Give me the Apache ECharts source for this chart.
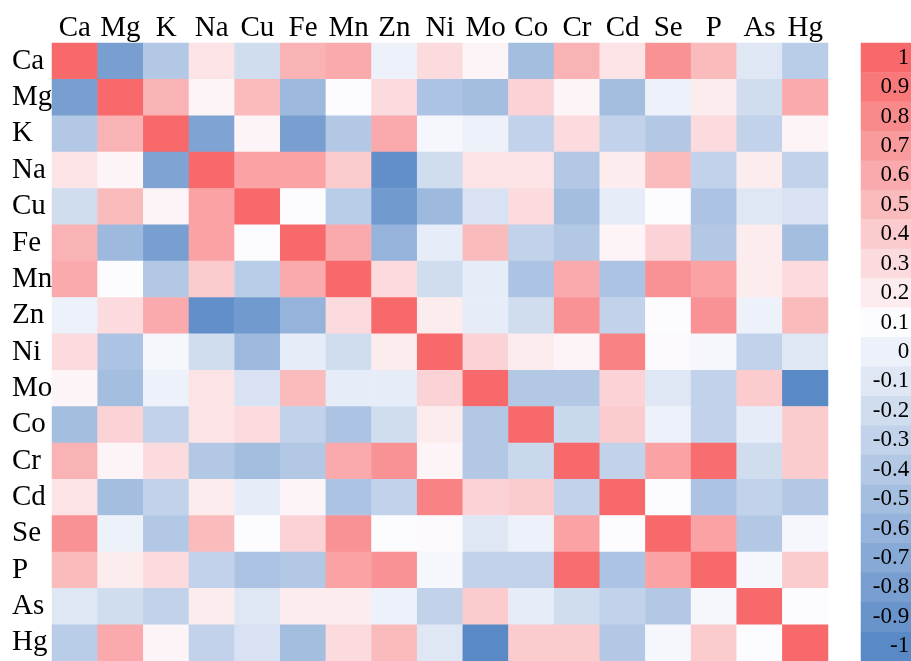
<!DOCTYPE html>
<html>
<head>
<meta charset="utf-8">
<script src="https://cdn.jsdelivr.net/npm/echarts@6/dist/echarts.min.js"></script>
<style>
html,body{margin:0;padding:0;background:#fff;}
#chart{width:911px;height:661px;}
</style>
</head>
<body>
<div id="chart"></div>
<script>
const elements = ['Ca','Mg','K','Na','Cu','Fe','Mn','Zn','Ni','Mo','Co','Cr','Cd','Se','P','As','Hg'];

const rCa = [1, -0.8, -0.4, 0.25, -0.2, 0.55, 0.6, 0, 0.3, 0.15, -0.5, 0.55, 0.25, 0.75, 0.5, -0.1, -0.35];
const rMg = [-0.8, 1, 0.55, 0.15, 0.5, -0.55, 0.1, 0.3, -0.45, -0.5, 0.35, 0.15, -0.5, 0, 0.2, -0.2, 0.6];
const rK  = [-0.4, 0.55, 1, -0.75, 0.15, -0.8, -0.4, 0.6, 0.05, 0, -0.3, 0.3, -0.3, -0.4, 0.3, -0.3, 0.15];
const rNa = [0.25, 0.15, -0.75, 1, 0.65, 0.65, 0.4, -0.95, -0.2, 0.25, 0.25, -0.4, 0.2, 0.5, -0.3, 0.2, -0.3];
const rCu = [-0.2, 0.5, 0.15, 0.65, 1, 0.1, -0.35, -0.85, -0.55, -0.15, 0.3, -0.5, -0.05, 0.1, -0.45, -0.1, -0.15];
const rFe = [0.55, -0.55, -0.8, 0.65, 0.1, 1, 0.6, -0.6, -0.05, 0.5, -0.3, -0.4, 0.15, 0.35, -0.4, 0.2, -0.5];
const rMn = [0.6, 0.1, -0.4, 0.4, -0.35, 0.6, 1, 0.3, -0.2, -0.05, -0.45, 0.6, -0.45, 0.75, 0.65, 0.2, 0.3];
const rZn = [0, 0.3, 0.6, -0.95, -0.85, -0.6, 0.3, 1, 0.2, -0.05, -0.2, 0.75, -0.3, 0.1, 0.75, 0, 0.5];
const rNi = [0.3, -0.45, 0.05, -0.2, -0.55, -0.05, -0.2, 0.2, 1, 0.35, 0.2, 0.15, 0.85, 0.12, 0.05, -0.3, -0.1];
const rMo = [0.15, -0.5, 0, 0.25, -0.15, 0.5, -0.05, -0.05, 0.35, 1, -0.4, -0.4, 0.35, -0.1, -0.3, 0.4, -1];
const rCo = [-0.5, 0.35, -0.3, 0.25, 0.3, -0.3, -0.45, -0.2, 0.2, -0.4, 1, -0.25, 0.4, 0, -0.3, -0.05, 0.4];
const rCr = [0.55, 0.15, 0.3, -0.4, -0.5, -0.4, 0.6, 0.75, 0.15, -0.4, -0.25, 1, -0.3, 0.65, 0.97, -0.2, 0.4];
const rCd = [0.25, -0.5, -0.3, 0.2, -0.05, 0.15, -0.45, -0.3, 0.85, 0.35, 0.4, -0.3, 1, 0.1, -0.45, -0.3, -0.4];
const rSe = [0.75, 0, -0.4, 0.5, 0.1, 0.35, 0.75, 0.1, 0.12, -0.1, 0, 0.65, 0.1, 1, 0.65, -0.4, 0.05];
const rP  = [0.5, 0.2, 0.3, -0.3, -0.45, -0.4, 0.65, 0.75, 0.05, -0.3, -0.3, 0.97, -0.45, 0.65, 1, 0.05, 0.4];
const rAs = [-0.1, -0.2, -0.3, 0.2, -0.1, 0.2, 0.2, 0, -0.3, 0.4, -0.05, -0.2, -0.3, -0.4, 0.05, 1, 0.1];
const rHg = [-0.35, 0.6, 0.15, -0.3, -0.15, -0.5, 0.3, 0.5, -0.1, -1, 0.4, 0.4, -0.4, 0.05, 0.4, 0.1, 1];

const matrixRows = [rCa, rMg, rK, rNa, rCu, rFe, rMn, rZn, rNi, rMo, rCo, rCr, rCd, rSe, rP, rAs, rHg];

const legendValues = [1, 0.9, 0.8, 0.7, 0.6, 0.5, 0.4, 0.3, 0.2, 0.1, 0, -0.1, -0.2, -0.3, -0.4, -0.5, -0.6, -0.7, -0.8, -0.9, -1];
const legendLabels = ['1','0.9','0.8','0.7','0.6','0.5','0.4','0.3','0.2','0.1','0','-0.1','-0.2','-0.3','-0.4','-0.5','-0.6','-0.7','-0.8','-0.9','-1'];

// colours for values -1, -0.9, ..., 1
const scaleColors = ['#5A8AC6','#6994CB','#789FD0','#86A9D5','#95B3DB','#A4BEE0','#B3C8E5','#C1D2EA','#D0DDEF','#DFE7F5','#EDF2FA',
  '#FCFCFF','#FCECEE','#FBDBDE','#FBCBCD','#FABBBD','#FAAAAC','#F99A9C','#F98A8C','#F9797B','#F8696B'];

const heatData = [];
matrixRows.forEach(function (row, yi) {
  row.forEach(function (v, xi) { heatData.push([xi, yi, v]); });
});
const legendData = legendValues.map(function (v, i) { return [0, i, v]; });

const FONT = "'Liberation Serif','Times New Roman',serif";
const chart = echarts.init(document.getElementById('chart'), null, {renderer: 'canvas'});
chart.setOption({
  animation: false,
  backgroundColor: '#ffffff',
  grid: [
    {left: 52, top: 43, width: 776, height: 622},
    {left: 861, top: 43, width: 60, height: 622}
  ],
  xAxis: [
    {type: 'category', gridIndex: 0, data: elements, position: 'top',
     axisLine: {show: false}, axisTick: {show: false}, splitLine: {show: false},
     axisLabel: {color: '#000', fontFamily: FONT, fontSize: 29, margin: 0, interval: 0}},
    {type: 'category', gridIndex: 1, data: [''], show: false}
  ],
  yAxis: [
    {type: 'category', gridIndex: 0, data: elements, inverse: true,
     axisLine: {show: false}, axisTick: {show: false}, splitLine: {show: false},
     axisLabel: {color: '#000', fontFamily: FONT, fontSize: 29, margin: 40, align: 'left', interval: 0}},
    {type: 'category', gridIndex: 1, data: legendLabels, inverse: true, show: false}
  ],
  visualMap: {
    type: 'continuous', show: false, min: -1, max: 1, dimension: 2,
    seriesIndex: [0, 1],
    inRange: {color: scaleColors}
  },
  series: [
    {type: 'heatmap', xAxisIndex: 0, yAxisIndex: 0, data: heatData,
     itemStyle: {borderWidth: 0}, emphasis: {disabled: true}},
    {type: 'heatmap', xAxisIndex: 1, yAxisIndex: 1, data: legendData,
     itemStyle: {borderWidth: 0}, emphasis: {disabled: true},
     label: {show: true, position: 'insideRight', distance: 2, color: '#000', fontFamily: FONT, fontSize: 23,
       formatter: function (p) { return legendLabels[p.data[1]]; }}}
  ]
});
</script>
</body>
</html>
